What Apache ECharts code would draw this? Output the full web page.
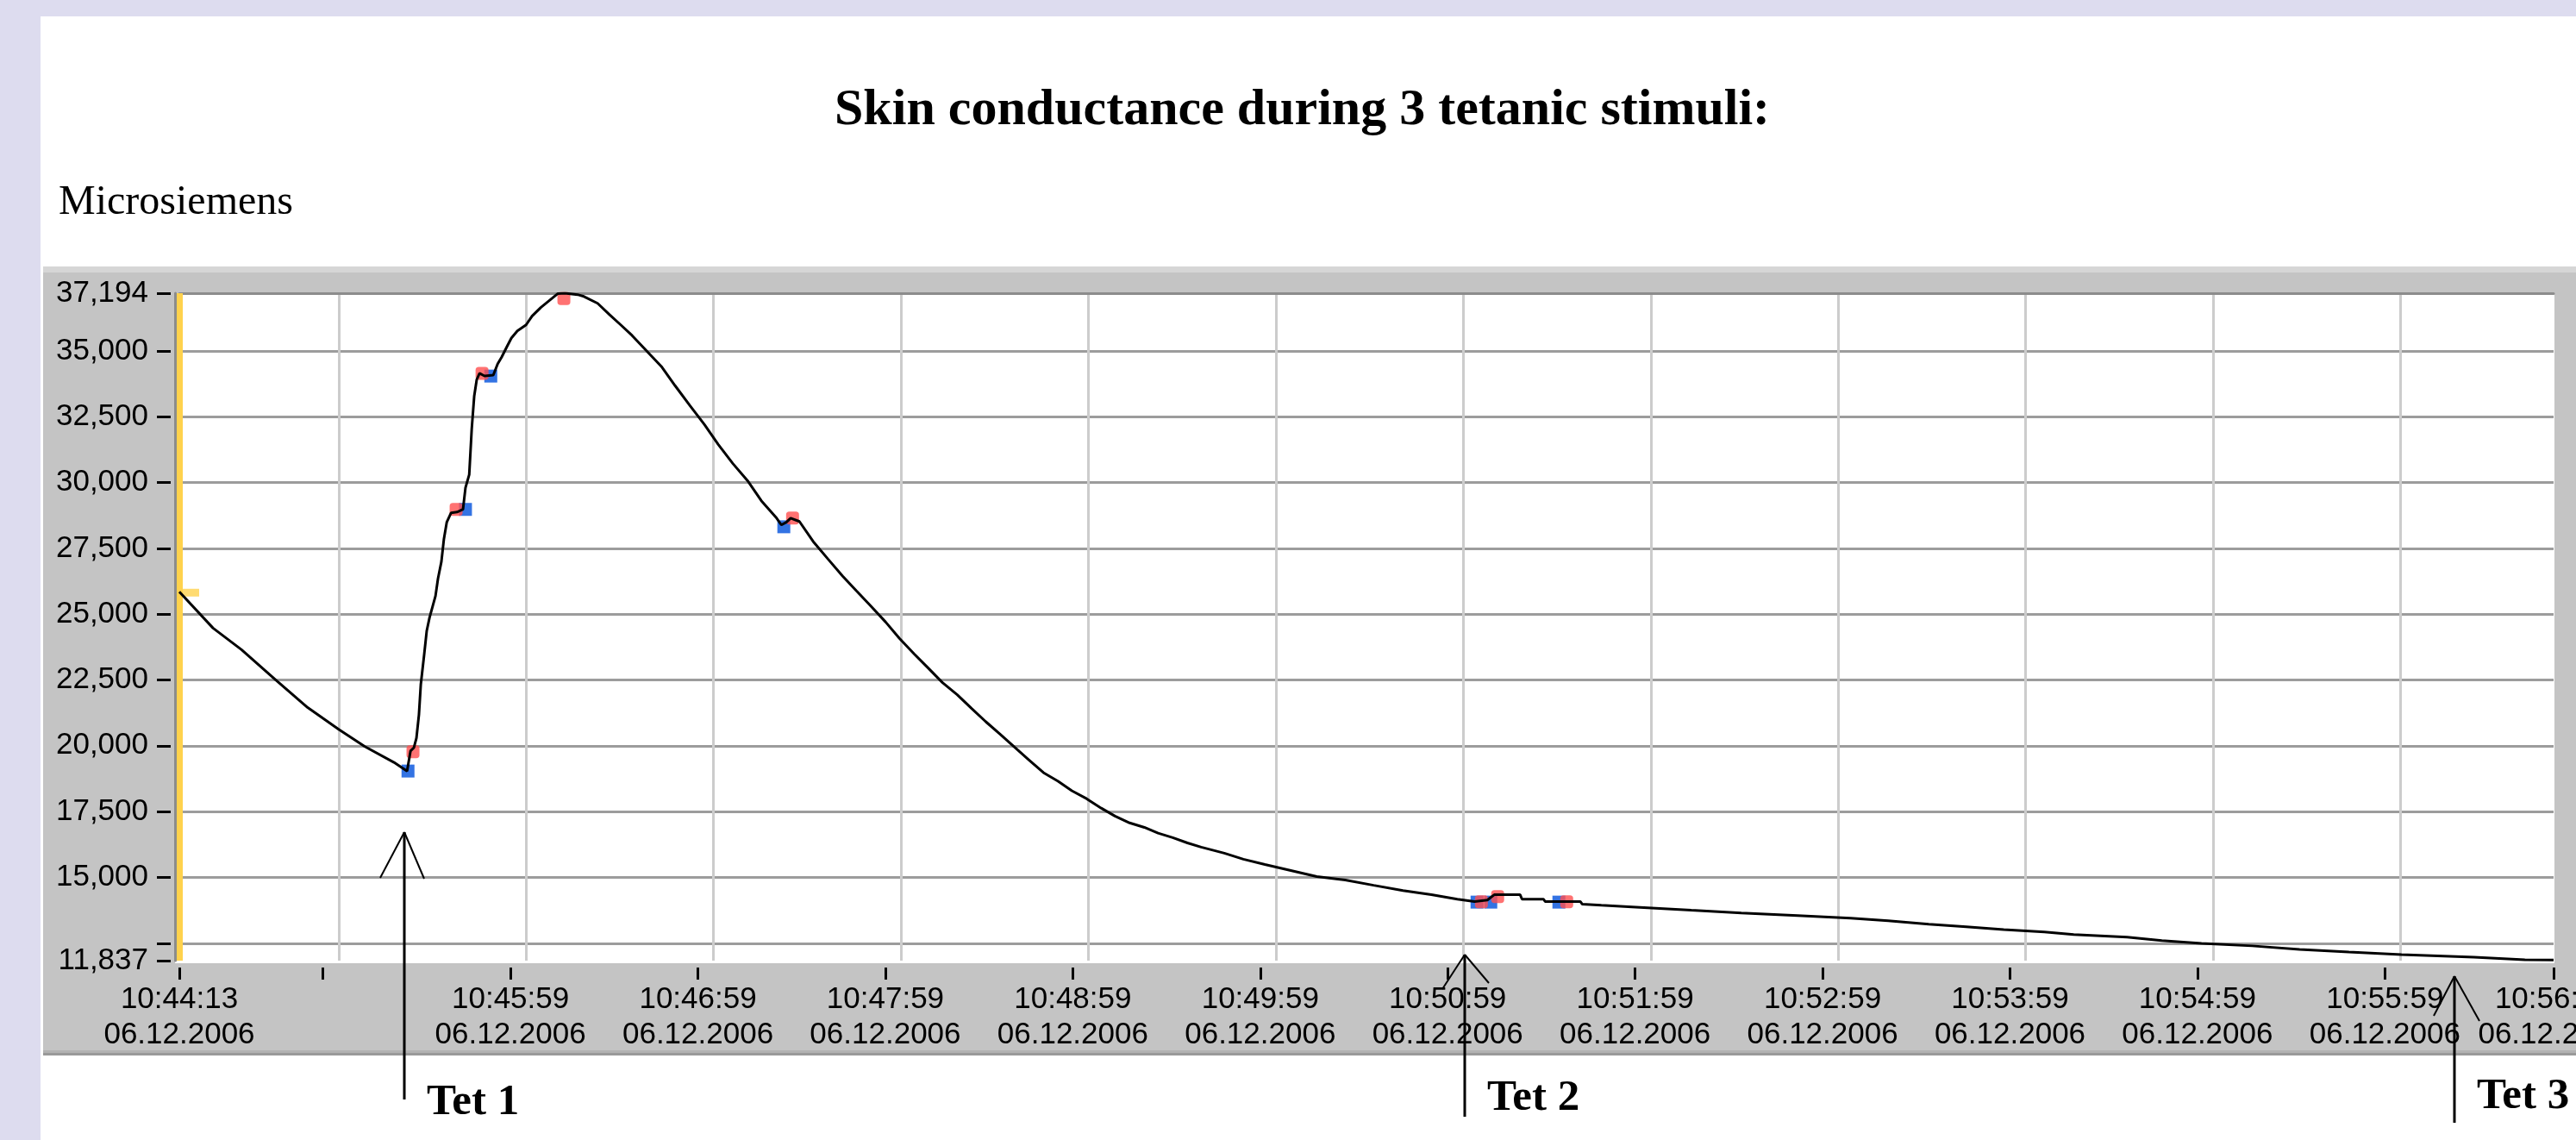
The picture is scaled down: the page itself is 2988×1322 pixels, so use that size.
<!DOCTYPE html>
<html>
<head>
<meta charset="utf-8">
<title>Skin conductance during 3 tetanic stimuli</title>
<script src="https://cdn.jsdelivr.net/npm/echarts@6/dist/echarts.min.js"></script>
<style>
html, body { margin: 0; padding: 0; background: #fff; }
#chart { width: 2988px; height: 1322px; }
</style>
</head>
<body>
<div id="chart"></div>
<script>
// x axis is counted in seconds after the first sample (10:44:13, 06.12.2006)
var startClock = [10, 44, 13];
var dateText = '06.12.2006';

var seconds = [0, 10.8, 19.9, 30.9, 41.1, 51.1, 59.4, 68.7, 72.9, 74.0, 75.1, 75.9, 76.7, 77.3, 78.4, 79.2, 80.1,
  82.0, 82.8, 83.9, 84.7, 85.6, 87.0, 88.9, 90.8, 91.6, 92.8, 93.6, 94.4, 95.2, 96.1, 97.7, 100.5, 101.9, 103.2,
  104.9, 106.3, 108.2, 111.0, 112.9, 115.7, 118.4, 121.2, 123.4, 127.5, 129.5, 133.9, 137.7, 141.3, 144.9, 149.6,
  154.3, 158.7, 163.4, 168.1, 172.5, 177.2, 181.9, 186.3, 191.0, 192.7, 194.3, 195.7, 198.5, 202.9, 207.6, 212.3,
  216.7, 221.4, 226.1, 230.5, 235.2, 239.9, 244.3, 249.0, 253.7, 258.1, 262.8, 267.5, 271.9, 276.6, 281.3, 285.7,
  290.4, 295.1, 299.5, 304.2, 308.9, 313.3, 318.0, 322.7, 327.1, 334.5, 340.6, 347.5, 355.8, 364.1, 373.2, 382.3,
  391.7, 400.8, 409.1, 414.6, 418.7, 420.9, 429.2, 429.8, 436.7, 437.2, 448.5, 449.1, 455.2, 465, 484, 500, 518,
  535, 547, 560, 572, 584, 597, 606.4, 623.5, 634.6, 647.3, 663.5, 678.7, 694.5, 711.3, 734.5, 750.8, 760];
var microsiemens = [25850, 24470, 23650, 22500, 21450, 20620, 19970, 19370, 19040, 19800, 19930, 20290, 21180, 22330,
  23490, 24370, 24870, 25690, 26350, 27000, 27860, 28490, 28850, 28880, 28980, 29800, 30300, 32040, 33290, 33910,
  34150, 34050, 34080, 34510, 34770, 35170, 35490, 35760, 35990, 36320, 36650, 36910, 37180, 37194, 37140, 37070,
  36810, 36380, 35990, 35590, 35000, 34410, 33680, 32930, 32200, 31450, 30720, 30070, 29310, 28680, 28390, 28490,
  28650, 28520, 27760, 27100, 26450, 25890, 25300, 24700, 24080, 23490, 22930, 22400, 21940, 21410, 20920, 20430,
  19930, 19470, 18980, 18650, 18290, 17990, 17630, 17330, 17070, 16900, 16680, 16510, 16310, 16150, 15920, 15690,
  15490, 15260, 15030, 14900, 14700, 14500, 14340, 14170, 14080, 14140, 14340, 14340, 14170, 14170, 14080, 14080,
  13980, 13940, 13880, 13750, 13650, 13550, 13450, 13350, 13220, 13120, 13020, 12925, 12825, 12727, 12595, 12496,
  12398, 12266, 12167, 12068, 11970, 11871, 11860];

var blueSeconds = [73.2, 91.6, 99.7, 193.5, 415.4, 419.8, 441.6];
var blueValues = [19040, 28980, 34045, 28320, 14060, 14060, 14060];
var redSeconds = [74.8, 88.6, 96.9, 123.1, 196.3, 416.8, 422.0, 444.1];
var redValues = [19770, 28980, 34145, 36990, 28650, 14076, 14273, 14076];

var xMax = 760;
var xTickSeconds = [0, 46, 106, 166, 226, 286, 346, 406, 466, 526, 586, 646, 706, 760];
var xLabelSeconds = [0, 106, 166, 226, 286, 346, 406, 466, 526, 586, 646, 706, 760];
var xGridSeconds = [51, 111, 171, 231, 291, 351, 411, 471, 531, 591, 651, 711];

var yMin = 11837, yMax = 37194;
var yTickValues = [11837, 12500, 15000, 17500, 20000, 22500, 25000, 27500, 30000, 32500, 35000, 37194];
var yLabelValues = [11837, 15000, 17500, 20000, 22500, 25000, 27500, 30000, 32500, 35000, 37194];
var yGridValues = [12500, 15000, 17500, 20000, 22500, 25000, 27500, 30000, 32500, 35000];

var tetNames = ['Tet 1', 'Tet 2', 'Tet 3'];
var tetSeconds = [72, 411.5, 728.3];

function zip(a, b) {
  return a.map(function (v, i) { return [v, b[i]]; });
}
function pad(n) { return (n < 10 ? '0' : '') + n; }
function clock(s) {
  var t = startClock[0] * 3600 + startClock[1] * 60 + startClock[2] + Math.round(s);
  return pad(Math.floor(t / 3600)) + ':' + pad(Math.floor(t / 60) % 60) + ':' + pad(t % 60);
}

var axisFont = { fontFamily: 'Liberation Sans', fontSize: 35, color: '#000' };

var chart = echarts.init(document.getElementById('chart'));
chart.setOption({
  animation: false,
  backgroundColor: '#fff',
  title: {
    text: 'Skin conductance during 3 tetanic stimuli:',
    left: 968, top: 98, padding: 0,
    textStyle: { fontFamily: 'Liberation Serif', fontWeight: 'bold', fontSize: 60, color: '#000' }
  },
  grid: { left: 208, right: 26, top: 340, bottom: 208, outerBoundsMode: 'none', containLabel: false },
  xAxis: [{
    type: 'value', min: 0, max: xMax, position: 'bottom', offset: 8,
    axisLine: { show: false, onZero: false },
    axisTick: { show: true, length: 14, customValues: xTickSeconds, lineStyle: { color: '#000', width: 3 } },
    axisLabel: Object.assign({
      customValues: xLabelSeconds, margin: 17, lineHeight: 41,
      formatter: function (v) { return clock(v) + '\n' + dateText; }
    }, axisFont),
    splitLine: { show: false }
  }, {
    type: 'value', min: 0, max: xMax, position: 'top',
    axisLine: { show: true, onZero: false, lineStyle: { color: '#8c8c8c', width: 3 } },
    axisTick: { show: false, customValues: xGridSeconds },
    axisLabel: { show: false },
    splitLine: { show: true, lineStyle: { color: '#cccccc', width: 3 } }
  }],
  yAxis: [{
    type: 'value', min: yMin, max: yMax, position: 'left', offset: 10,
    axisLine: { show: false, onZero: false },
    axisTick: { show: true, length: 16, customValues: yTickValues, lineStyle: { color: '#000', width: 3 } },
    axisLabel: Object.assign({
      customValues: yLabelValues, margin: 26,
      formatter: function (v) { return v.toLocaleString('en-US'); }
    }, axisFont),
    splitLine: { show: false }
  }, {
    type: 'value', min: yMin, max: yMax, position: 'left', offset: 5,
    axisLine: { show: true, onZero: false, lineStyle: { color: '#8c8c8c', width: 3 } },
    axisTick: { show: false, customValues: yGridValues },
    axisLabel: { show: false },
    splitLine: { show: true, lineStyle: { color: '#9c9c9c', width: 3 } }
  }],
  series: [{
    name: 'start', type: 'scatter', xAxisIndex: 0, yAxisIndex: 0, z: 3,
    data: [[seconds[0], microsiemens[0]]],
    symbol: 'rect', symbolSize: [20, 9], symbolOffset: [13, 1],
    itemStyle: { color: '#ffd24d' }
  }, {
    name: 'blue', type: 'scatter', xAxisIndex: 0, yAxisIndex: 0, z: 3,
    data: zip(blueSeconds, blueValues),
    symbol: 'rect', symbolSize: 15,
    itemStyle: { color: '#0050dc' }
  }, {
    name: 'red', type: 'scatter', xAxisIndex: 0, yAxisIndex: 0, z: 4,
    data: zip(redSeconds, redValues),
    symbol: 'roundRect', symbolSize: 15,
    itemStyle: { color: '#ff4f4f' }
  }, {
    name: 'Microsiemens', type: 'line', xAxisIndex: 0, yAxisIndex: 0, z: 5,
    data: zip(seconds, microsiemens),
    symbol: 'none',
    lineStyle: { color: '#000', width: 3 },
    markLine: {
      silent: true, symbol: ['none', 'none'], label: { show: false },
      lineStyle: { color: '#ffd24d', width: 7, type: 'solid' },
      data: [{ xAxis: 0 }]
    }
  }]
});

// panel backgrounds and the hand-drawn stimulus arrows
var gfx = [
  { type: 'rect', z: -10, shape: { x: 0, y: 0, width: 47, height: 1322 }, style: { fill: '#dddcef' } },
  { type: 'rect', z: -10, shape: { x: 0, y: 0, width: 2988, height: 19 }, style: { fill: '#dddcef' } },
  { type: 'rect', z: -9, shape: { x: 50, y: 309, width: 2938, height: 7 }, style: { fill: '#d6d6d6' } },
  { type: 'rect', z: -9, shape: { x: 50, y: 316, width: 2938, height: 902 }, style: { fill: '#c4c4c4' } },
  { type: 'rect', z: -9, shape: { x: 50, y: 1218, width: 2938, height: 3 }, style: { fill: '#b2b2b2' } },
  { type: 'rect', z: -9, shape: { x: 50, y: 1221, width: 2938, height: 3 }, style: { fill: '#999999' } },
  { type: 'rect', z: -8, shape: { x: 203, y: 340, width: 2760, height: 777 }, style: { fill: '#ffffff' } },
  { type: 'text', z: 10, style: { text: 'Microsiemens', x: 68, y: 235, fill: '#000',
      font: '48px "Liberation Serif"', align: 'left', verticalAlign: 'middle' } }
];
var arrowTip = [965, 1107, 1132];
var arrowEnd = [1275, 1295, 1302];
var wingL = [[-28, 1018], [-26, 1147], [-24, 1178]];
var wingR = [[23, 1019], [28, 1140], [29, 1184]];
var textMid = [1279, 1274, 1272];
tetSeconds.forEach(function (s, i) {
  var x = Math.round(chart.convertToPixel({ xAxisIndex: 0 }, s));
  gfx.push({ type: 'line', z: 10, shape: { x1: x, y1: arrowTip[i], x2: x, y2: arrowEnd[i] }, style: { stroke: '#000', lineWidth: 3 } });
  gfx.push({ type: 'line', z: 10, shape: { x1: x, y1: arrowTip[i], x2: x + wingL[i][0], y2: wingL[i][1] }, style: { stroke: '#000', lineWidth: 2 } });
  gfx.push({ type: 'line', z: 10, shape: { x1: x, y1: arrowTip[i], x2: x + wingR[i][0], y2: wingR[i][1] }, style: { stroke: '#000', lineWidth: 2 } });
  gfx.push({ type: 'text', z: 10, style: { text: tetNames[i], x: x + 26, y: textMid[i], fill: '#000',
      font: 'bold 51px "Liberation Serif"', align: 'left', verticalAlign: 'middle' } });
});
chart.setOption({ graphic: gfx });
</script>
</body>
</html>
